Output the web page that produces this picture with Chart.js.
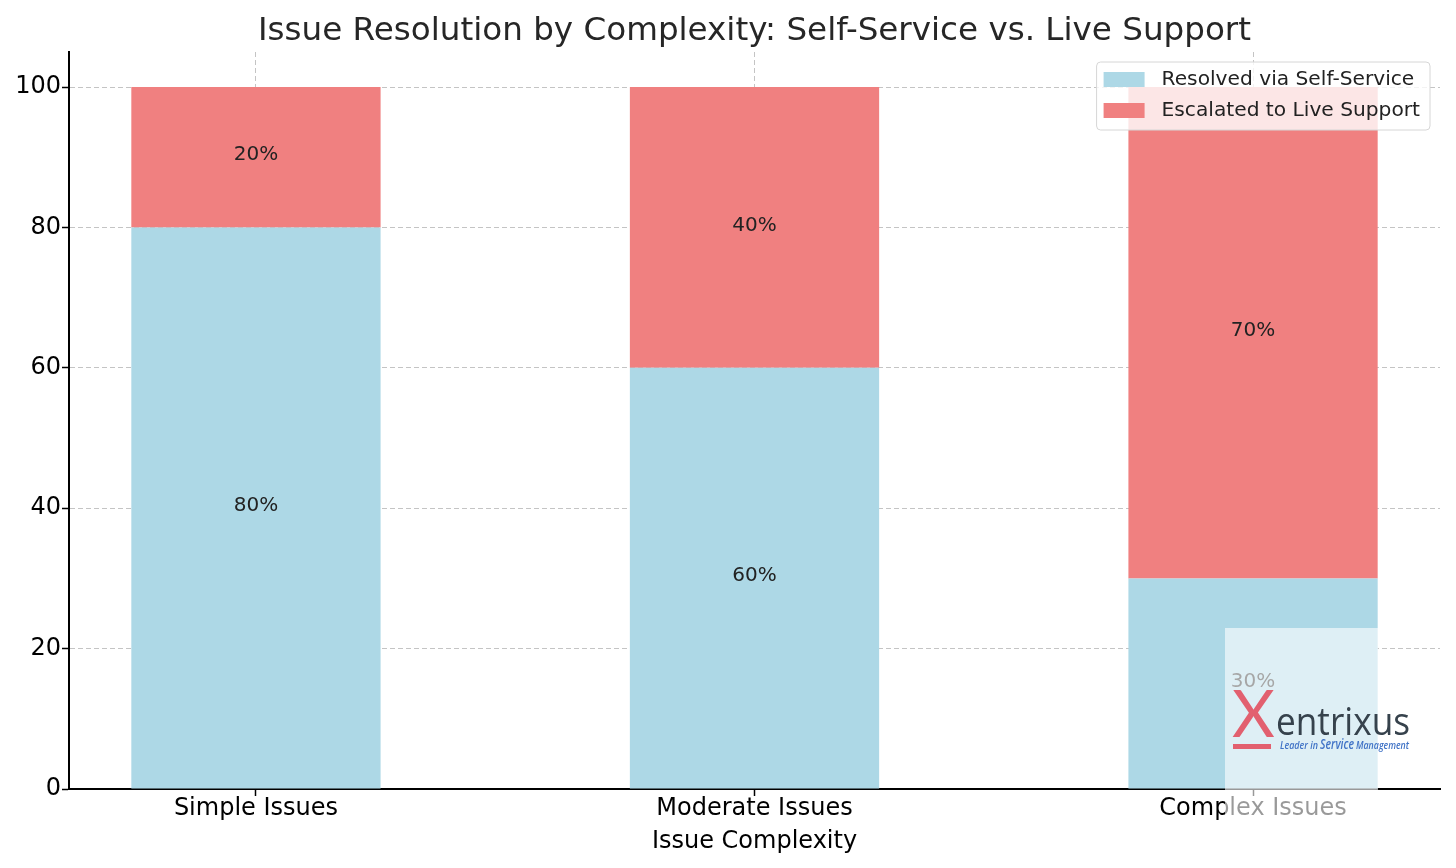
<!DOCTYPE html>
<html>
<head>
<meta charset="utf-8">
<script src="https://cdn.jsdelivr.net/npm/chart.js@4"></script>
<style>
  html, body { margin: 0; padding: 0; background: #fff; }
</style>
</head>
<body>
<canvas id="resolutionChart" width="1456" height="868"></canvas>
<script>
const categories = ['Simple Issues', 'Moderate Issues', 'Complex Issues'];
const selfService = [80, 60, 30];
const liveSupport = [20, 40, 70];
const yTicks = [0, 20, 40, 60, 80, 100];
const seriesNames = ['Resolved via Self-Service', 'Escalated to Live Support'];
const seriesColors = ['#ADD8E6', '#F08080'];
const chartTitle = 'Issue Resolution by Complexity: Self-Service vs. Live Support';
const xAxisTitle = 'Issue Complexity';

const FONT = "'DejaVu Sans', sans-serif";

// percentage text in the middle of each stacked segment
const segmentLabels = {
    id: 'segmentLabels',
    afterDraw(chart) {
        const ctx = chart.ctx;
        ctx.save();
        ctx.font = `20px ${FONT}`;
        ctx.fillStyle = '#222';
        ctx.textAlign = 'center';
        ctx.textBaseline = 'middle';
        chart.data.datasets.forEach((ds, di) => {
            chart.getDatasetMeta(di).data.forEach((bar, i) => {
                const p = bar.getCenterPoint();
                ctx.fillText(ds.data[i].y + '%', p.x, p.y - 2);
            });
        });
        ctx.restore();
    }
};

// title centred over the plot area (matplotlib style)
const plotTitle = {
    id: 'plotTitle',
    afterDraw(chart) {
        const ctx = chart.ctx;
        const a = chart.chartArea;
        ctx.save();
        ctx.font = `32.6px ${FONT}`;
        ctx.fillStyle = '#262626';
        ctx.textAlign = 'center';
        ctx.textBaseline = 'alphabetic';
        ctx.fillText(chartTitle, (a.left + a.right) / 2, 40);
        ctx.restore();
    }
};

// boxed legend in the upper right corner of the plot
const boxLegend = {
    id: 'boxLegend',
    afterDraw(chart) {
        const ctx = chart.ctx;
        const a = chart.chartArea;
        ctx.save();
        ctx.font = `20.2px ${FONT}`;
        const textW = Math.max(...chart.data.datasets.map(d => ctx.measureText(d.label).width));
        const w = 65 + textW + 10;
        const h = 68;
        const x = a.right - 10 - w;
        const y = a.top + 10;
        ctx.beginPath();
        ctx.roundRect(x, y, w, h, 4);
        ctx.fillStyle = 'rgba(255,255,255,0.8)';
        ctx.fill();
        ctx.strokeStyle = '#d6d6d6';
        ctx.lineWidth = 1;
        ctx.stroke();
        ctx.textBaseline = 'middle';
        chart.data.datasets.forEach((d, i) => {
            const cy = y + 17.5 + i * 31;
            ctx.fillStyle = d.backgroundColor;
            ctx.fillRect(x + 7, cy - 7.5, 41, 15);
            ctx.fillStyle = '#222';
            ctx.fillText(d.label, x + 65, cy);
        });
        ctx.restore();
    }
};

// faded logo overlay in the lower right corner
const logoMark = {
    id: 'logoMark',
    afterDraw(chart) {
        const ctx = chart.ctx;
        ctx.save();
        ctx.fillStyle = 'rgba(255,255,255,0.6)';
        ctx.fillRect(1225, 628, 153, 240);

        ctx.textBaseline = 'alphabetic';
        ctx.fillStyle = '#e2606f';
        ctx.font = `400 66px Lato, sans-serif`;
        ctx.fillText('X', 1232, 737, 46);
        ctx.fillRect(1233, 744, 38, 5);

        ctx.fillStyle = '#36424c';
        ctx.font = `400 38px 'Open Sans', sans-serif`;
        ctx.fillText('entrixus', 1276, 735, 134);

        ctx.fillStyle = '#3f72c6';
        ctx.font = `italic 600 11px 'Open Sans', sans-serif`;
        ctx.fillText('Leader in', 1280, 749, 38);
        ctx.font = `italic 600 14px 'Open Sans', sans-serif`;
        ctx.fillText('Service', 1320, 749, 34);
        ctx.font = `italic 600 11px 'Open Sans', sans-serif`;
        ctx.fillText('Management', 1356, 749, 53);
        ctx.restore();
    }
};

const gridOpts = {
    color: '#c4c4c4',
    lineWidth: 1,
    tickLength: 7,
    tickColor: '#000',
    tickWidth: 1.5,
    tickBorderDash: [],
    offset: false
};
const borderOpts = { display: true, color: '#000', width: 2, dash: [5, 3] };

const ctx = document.getElementById('resolutionChart').getContext('2d');
const resolutionChart = new Chart(ctx, {
    type: 'bar',
    data: {
        datasets: [
            {
                label: seriesNames[0],
                data: categories.map((c, i) => ({ x: i, y: selfService[i] })),
                backgroundColor: seriesColors[0],
                borderWidth: 0,
                barPercentage: 0.5,
                categoryPercentage: 1.0
            },
            {
                label: seriesNames[1],
                data: categories.map((c, i) => ({ x: i, y: liveSupport[i] })),
                backgroundColor: seriesColors[1],
                borderWidth: 0,
                barPercentage: 0.5,
                categoryPercentage: 1.0
            }
        ]
    },
    options: {
        responsive: false,
        animation: false,
        layout: { padding: { top: 52, right: 16, left: 0, bottom: 0 } },
        scales: {
            x: {
                type: 'linear',
                min: -0.375,
                max: 2.375,
                offset: false,
                stacked: true,
                z: 1,
                afterBuildTicks: s => { s.ticks = categories.map((c, i) => ({ value: i })); },
                afterFit: s => { s.height = 79; },
                ticks: {
                    callback: v => categories[v],
                    font: { family: FONT, size: 24 },
                    color: '#000',
                    padding: -2,
                    maxRotation: 0,
                    autoSkip: false
                },
                grid: gridOpts,
                border: borderOpts,
                title: {
                    display: true,
                    text: xAxisTitle,
                    font: { family: FONT, size: 24 },
                    color: '#000',
                    padding: { top: 0, bottom: 12 }
                }
            },
            y: {
                min: 0,
                max: 105,
                stacked: true,
                z: 1,
                afterBuildTicks: s => { s.ticks = yTicks.map(v => ({ value: v })); },
                afterFit: s => { s.width = 69; },
                ticks: {
                    font: { family: FONT, size: 24 },
                    color: '#000',
                    padding: 1
                },
                grid: gridOpts,
                border: borderOpts
            }
        },
        plugins: {
            legend: { display: false },
            title: { display: false },
            tooltip: { enabled: false }
        }
    },
    plugins: [segmentLabels, plotTitle, boxLegend, logoMark]
});
</script>
</body>
</html>
